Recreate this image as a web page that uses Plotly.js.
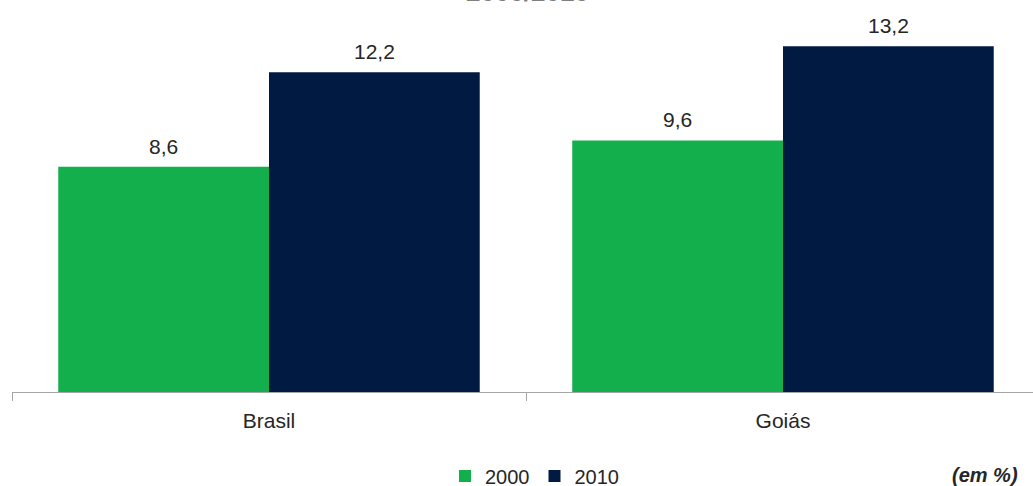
<!DOCTYPE html>
<html>
<head>
<meta charset="utf-8">
<script src="https://cdn.plot.ly/plotly-3.0.1.min.js"></script>
<style>
html,body{margin:0;padding:0;overflow:hidden;background:#fff;}
#chart{width:1033px;height:486px;}
</style>
</head>
<body>
<div id="chart"></div>
<script>
const categories = ["Brasil", "Goiás"];
const seriesNames = ["2000", "2010"];
const values2000 = [8.6, 9.6];
const values2010 = [12.2, 13.2];
const titleText = "2000/2010";
const unitNote = "(em %)";

const colors = {"2000": "rgb(19,175,76)", "2010": "rgb(0,26,66)"};
const fmt = v => v.toFixed(1).replace(".", ",");
const FONT = "Liberation Sans, Arial, sans-serif";

const plotL = 12, plotT = 0, plotH = 392, W = 1033, H = 486;
const plotW = W - plotL;
const catPx = 514; // pixels per category
const xMax = -0.5 + plotW / catPx;

const seriesValues = [values2000, values2010];
const traces = seriesNames.map((name, i) => ({
  type: "bar",
  name: name,
  x: categories,
  y: seriesValues[i],
  marker: {color: colors[name], line: {width: 0}},
  hoverinfo: "none"
}));

const annotations = [];
seriesValues.forEach((vals, i) => {
  vals.forEach((v, j) => {
    annotations.push({
      x: categories[j], y: v, xref: "x", yref: "y",
      xshift: (i === 0 ? -1 : 1) * 105.5,
      yanchor: "bottom", yshift: 7,
      text: fmt(v), showarrow: false,
      font: {family: FONT, size: 21, color: "#262626"}
    });
  });
});
// cut-off title (only its lower edge is visible in the original)
annotations.push({
  x: (527 - plotL) / plotW, y: 1, xref: "paper", yref: "paper", yanchor: "bottom", xanchor: "center",
  yshift: -9, text: "<b>" + titleText + "</b>", showarrow: false,
  font: {family: FONT, size: 26, color: "#7f7f7f"}
});
// unit note
annotations.push({
  x: (1020 - plotL) / plotW, xanchor: "right",
  y: 1 - (475 - plotT) / plotH, yanchor: "middle",
  xref: "paper", yref: "paper", showarrow: false,
  text: "<b><i>" + unitNote + "</i></b>",
  font: {family: FONT, size: 20, color: "#262626"}
});

const layout = {
  width: W, height: H,
  margin: {l: plotL, r: 0, t: plotT, b: H - plotH, autoexpand: false},
  paper_bgcolor: "#fff", plot_bgcolor: "#fff",
  barmode: "group",
  bargap: 0.18, bargroupgap: 0,
  showlegend: true,
  legend: {
    orientation: "h", x: (445 - plotL) / plotW, xanchor: "left",
    y: 1 - (476 - plotT) / plotH, yanchor: "middle",
    font: {family: FONT, size: 20, color: "#262626"},
    tracegroupgap: 0, bgcolor: "rgba(0,0,0,0)"
  },
  xaxis: {
    type: "category", range: [-0.5, xMax],
    showline: true, linecolor: "#a6a6a6", linewidth: 1,
    ticks: "outside", tickson: "boundaries", ticklen: 8, tickcolor: "#a6a6a6",
    showgrid: false, zeroline: false, ticklabelstandoff: 10,
    tickfont: {family: FONT, size: 21, color: "#262626"}
  },
  yaxis: {
    range: [0, plotH / 26.2], visible: false, showgrid: false, zeroline: false
  },
  annotations: annotations
};

Plotly.newPlot("chart", traces, layout, {staticPlot: true, displayModeBar: false});
</script>
</body>
</html>
